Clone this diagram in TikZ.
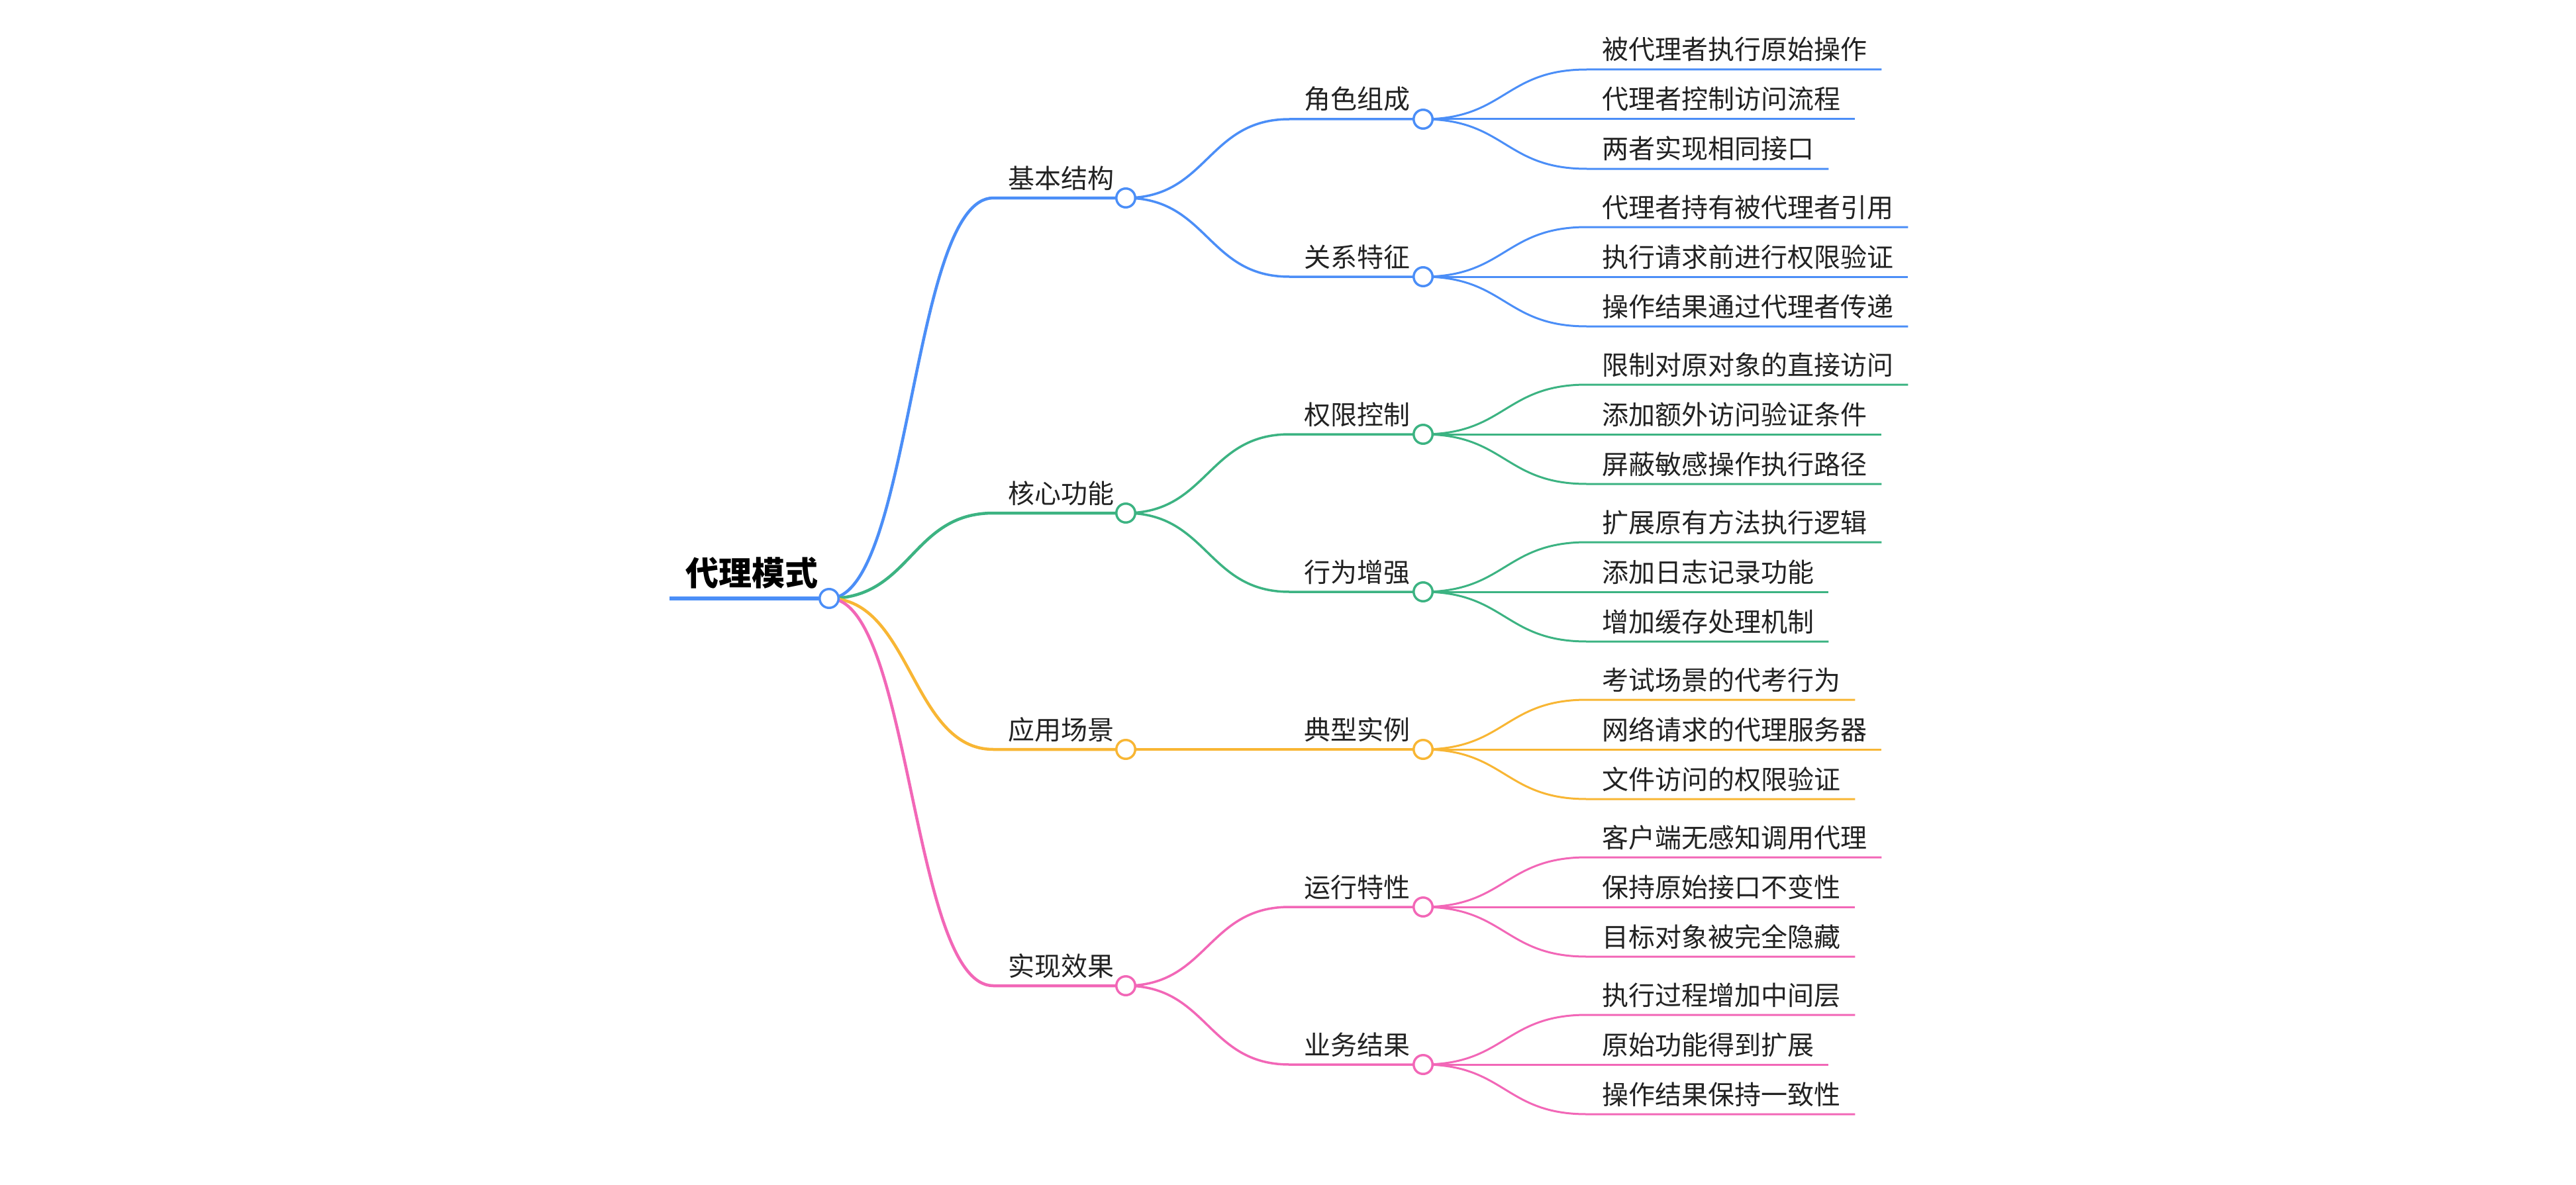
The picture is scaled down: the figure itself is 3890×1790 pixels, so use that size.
\documentclass[tikz,border=0pt]{standalone}
\usepackage{fontspec}
\setmainfont{Noto Sans CJK SC}
\usetikzlibrary{backgrounds}
\definecolor{cB}{RGB}{75,142,247}
\definecolor{cG}{RGB}{60,179,130}
\definecolor{cO}{RGB}{248,182,52}
\definecolor{cP}{RGB}{242,103,183}
\definecolor{txtc}{RGB}{34,34,34}
\newcommand\mmleaf[6]{%
  \foreach \txt/\dy/\k in {#4/-75/a,#5/0/b,#6/75/c}{%
    \pgfmathsetmacro\yy{#3+\dy}
    \node[lbl] (#1\k) at (2419,\yy-15) {\txt};
    \coordinate (#1\k S) at (2396,\yy);
    \coordinate (#1\k E) at ([shift={(22,15)}]#1\k.base east);
    \begin{scope}[on background layer]
      \draw[lfline=#2] (#1.center) .. controls +(124,0) and +(-124,0) .. (#1\k S) -- (#1\k E);
    \end{scope}
  }}
\begin{document}
\begin{tikzpicture}[x=1pt,y=-1pt,
  dot/.style={circle,draw=#1,fill=white,line width=3.5pt,minimum size=28.5pt,inner sep=0pt},
  lbl/.style={anchor=base west,inner sep=0pt,text=txtc,font=\fontsize{40}{48}\selectfont},
  rootlbl/.style={anchor=base west,inner sep=0pt,text=black,font=\fontsize{50}{60}\selectfont\bfseries},
  lone/.style={draw=#1,line width=4.5pt},
  ltwo/.style={draw=#1,line width=3.5pt},
  lfline/.style={draw=#1,line width=3pt}]
\useasboundingbox (0,0) rectangle (3890,1790);
% root
\node[dot=cB] (R) at (1252,904) {};
\node[rootlbl] (Rt) at (1035,884) {代理模式};
\coordinate (R0) at (1011,904);
% level 1
\node[dot=cB] (A) at (1700,299) {};
\node[lbl] (At) at (1522,284) {基本结构};
\coordinate (Ah) at (1500,299);
\node[dot=cG] (B) at (1700,775) {};
\node[lbl] (Bt) at (1522,760) {核心功能};
\coordinate (Bh) at (1500,775);
\node[dot=cO] (C) at (1700,1132) {};
\node[lbl] (Ct) at (1522,1117) {应用场景};
\coordinate (Ch) at (1500,1132);
\node[dot=cP] (D) at (1700,1489) {};
\node[lbl] (Dt) at (1522,1474) {实现效果};
\coordinate (Dh) at (1500,1489);
% level 2
\node[dot=cB] (A1) at (2149,180) {};
\node[lbl] (A1t) at (1969,165) {角色组成};
\coordinate (A1h) at (1947,180);
\node[dot=cB] (A2) at (2149,418) {};
\node[lbl] (A2t) at (1969,403) {关系特征};
\coordinate (A2h) at (1947,418);
\node[dot=cG] (B1) at (2149,656) {};
\node[lbl] (B1t) at (1969,641) {权限控制};
\coordinate (B1h) at (1947,656);
\node[dot=cG] (B2) at (2149,894) {};
\node[lbl] (B2t) at (1969,879) {行为增强};
\coordinate (B2h) at (1947,894);
\node[dot=cO] (C1) at (2149,1132) {};
\node[lbl] (C1t) at (1969,1117) {典型实例};
\coordinate (C1h) at (1947,1132);
\node[dot=cP] (D1) at (2149,1370) {};
\node[lbl] (D1t) at (1969,1355) {运行特性};
\coordinate (D1h) at (1947,1370);
\node[dot=cP] (D2) at (2149,1608) {};
\node[lbl] (D2t) at (1969,1593) {业务结果};
\coordinate (D2h) at (1947,1608);
\begin{scope}[on background layer]
  \draw[line width=6pt,cB] (R0) -- (R);
  \draw[lone=cB] (R.center) .. controls +(124,0) and +(-124,0) .. (Ah) -- (A);
  \draw[lone=cG] (R.center) .. controls +(124,0) and +(-124,0) .. (Bh) -- (B);
  \draw[lone=cO] (R.center) .. controls +(124,0) and +(-124,0) .. (Ch) -- (C);
  \draw[lone=cP] (R.center) .. controls +(124,0) and +(-124,0) .. (Dh) -- (D);
  \draw[ltwo=cB] (A.center) .. controls +(124,0) and +(-124,0) .. (A1h) -- (A1);
  \draw[ltwo=cB] (A.center) .. controls +(124,0) and +(-124,0) .. (A2h) -- (A2);
  \draw[ltwo=cG] (B.center) .. controls +(124,0) and +(-124,0) .. (B1h) -- (B1);
  \draw[ltwo=cG] (B.center) .. controls +(124,0) and +(-124,0) .. (B2h) -- (B2);
  \draw[ltwo=cO] (C.center) -- (C1h) -- (C1);
  \draw[ltwo=cP] (D.center) .. controls +(124,0) and +(-124,0) .. (D1h) -- (D1);
  \draw[ltwo=cP] (D.center) .. controls +(124,0) and +(-124,0) .. (D2h) -- (D2);
\end{scope}
% leaves
\mmleaf{A1}{cB}{180}{被代理者执行原始操作}{代理者控制访问流程}{两者实现相同接口}
\mmleaf{A2}{cB}{418}{代理者持有被代理者引用}{执行请求前进行权限验证}{操作结果通过代理者传递}
\mmleaf{B1}{cG}{656}{限制对原对象的直接访问}{添加额外访问验证条件}{屏蔽敏感操作执行路径}
\mmleaf{B2}{cG}{894}{扩展原有方法执行逻辑}{添加日志记录功能}{增加缓存处理机制}
\mmleaf{C1}{cO}{1132}{考试场景的代考行为}{网络请求的代理服务器}{文件访问的权限验证}
\mmleaf{D1}{cP}{1370}{客户端无感知调用代理}{保持原始接口不变性}{目标对象被完全隐藏}
\mmleaf{D2}{cP}{1608}{执行过程增加中间层}{原始功能得到扩展}{操作结果保持一致性}
\end{tikzpicture}
\end{document}
